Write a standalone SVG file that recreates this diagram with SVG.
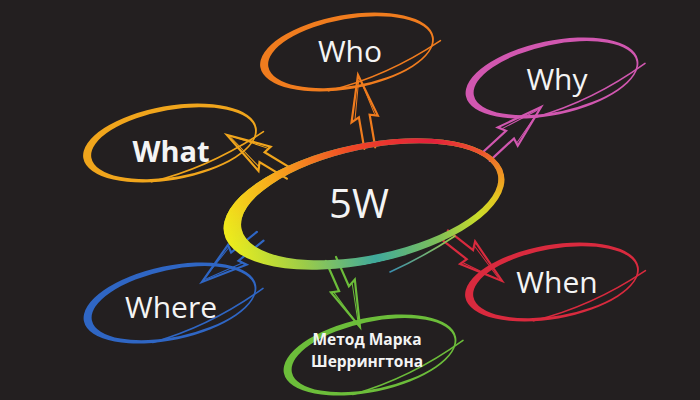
<svg xmlns="http://www.w3.org/2000/svg" xmlns:xlink="http://www.w3.org/1999/xlink" width="700" height="400" viewBox="0 0 700 400">
<style>
.lbl{font-family:"Open Sans","Noto Sans","Liberation Sans",sans-serif;fill:#f4f4f4;text-anchor:middle}
.arr{fill:none;stroke-width:2.2;stroke-linejoin:miter;stroke-linecap:round}
.tl{fill:none;stroke-width:1.6;stroke-linecap:round}
</style>
<defs>
<path id="ring" fill-rule="evenodd" d="M-88,0 A88,37 0 1,0 88,0 A88,37 0 1,0 -88,0 Z M-80,0.8 A83,33.5 0 1,0 86,0.8 A83,33.5 0 1,0 -80,0.8 Z"/>
<path id="tail" d="M-25,35 Q35,31 94,5"/>
<g id="arrow">
<path d="M-4,74 L-5,42 L-13,46 L0,0 L14,43 L6,41 L7,74"/>
<path d="M0,5 L-9,43 M2,6 L11,41" stroke-width="1"/>
</g>
<clipPath id="cclip">
<path fill-rule="evenodd" clip-rule="evenodd" d="M-143,0 A143,60 0 1,0 143,0 A143,60 0 1,0 -143,0 Z M-125,-1 A131,53 0 1,0 137,-1 A131,53 0 1,0 -125,-1 Z"/>
</clipPath>
<linearGradient id="gTop" x1="-143" y1="0" x2="143" y2="0" gradientUnits="userSpaceOnUse">
<stop offset="0" stop-color="#f2e61a"/>
<stop offset="0.22" stop-color="#f7a51c"/>
<stop offset="0.5" stop-color="#ef4626"/>
<stop offset="0.78" stop-color="#e21f3b"/>
<stop offset="1" stop-color="#f06a2a"/>
</linearGradient>
<linearGradient id="gBot" x1="-143" y1="0" x2="143" y2="0" gradientUnits="userSpaceOnUse">
<stop offset="0" stop-color="#eef01c"/>
<stop offset="0.25" stop-color="#9ccc48"/>
<stop offset="0.5" stop-color="#3fa99c"/>
<stop offset="0.72" stop-color="#7cbf5a"/>
<stop offset="0.88" stop-color="#c9dc2a"/>
<stop offset="1" stop-color="#f2b81c"/>
</linearGradient>
<linearGradient id="gFade" x1="0" y1="-25" x2="0" y2="20" gradientUnits="userSpaceOnUse">
<stop offset="0" stop-color="#fff"/>
<stop offset="1" stop-color="#000"/>
</linearGradient>
<mask id="mTop" maskUnits="userSpaceOnUse" x="-160" y="-80" width="320" height="160">
<rect x="-160" y="-80" width="320" height="160" fill="url(#gFade)"/>
</mask>
<linearGradient id="gTail" x1="0" y1="0" x2="1" y2="0">
<stop offset="0" stop-color="#3a8fb0"/>
<stop offset="1" stop-color="#9acb4a"/>
</linearGradient>
</defs>
<rect width="700" height="400" fill="#231f20"/>

<g id="connectors">
<g transform="translate(358,75) rotate(-8)"><use xlink:href="#arrow" class="arr" stroke="#f07c1e"/></g>
<g transform="translate(541,107) rotate(49)"><use xlink:href="#arrow" class="arr" stroke="#d157b0"/></g>
<g transform="translate(502,281) rotate(130)"><use xlink:href="#arrow" class="arr" stroke="#d92a3e"/></g>
<g transform="translate(202,282) rotate(-127)"><use xlink:href="#arrow" class="arr" stroke="#2f66c4"/></g>
<g transform="translate(227,135) rotate(-57)"><use xlink:href="#arrow" class="arr" stroke="#f0a51c"/></g>
<g transform="translate(360,327) rotate(158)"><use xlink:href="#arrow" class="arr" stroke="#6cbd3a"/></g>
</g>

<g id="center">
<g transform="translate(364,204) rotate(-12)">
<g clip-path="url(#cclip)">
<rect x="-150" y="-70" width="300" height="140" fill="url(#gBot)"/>
<rect x="-150" y="-70" width="300" height="140" fill="url(#gTop)" mask="url(#mTop)"/>
</g>
</g>
<path d="M390,272 Q425,256 455,236" class="tl" stroke="url(#gTail)"/>
<text class="lbl" x="359" y="218" font-size="40">5W</text>
</g>

<g id="what">
<g transform="translate(170,143) rotate(-10)">
<use xlink:href="#ring" fill="#f0a51c"/>
<use xlink:href="#tail" class="tl" stroke="#f0a51c"/>
</g>
<text class="lbl" x="171" y="162" font-size="29" font-weight="700">What</text>
</g>

<g id="who">
<g transform="translate(347,52) rotate(-10)">
<use xlink:href="#ring" fill="#f07c1e"/>
<use xlink:href="#tail" class="tl" stroke="#f07c1e"/>
</g>
<text class="lbl" x="350" y="62" font-size="30">Who</text>
</g>

<g id="why">
<g transform="translate(552,78) rotate(-12)">
<use xlink:href="#ring" fill="#d157b0"/>
<use xlink:href="#tail" class="tl" stroke="#d157b0"/>
</g>
<text class="lbl" x="557" y="90" font-size="30">Why</text>
</g>

<g id="when">
<g transform="translate(552,282) rotate(-10)">
<use xlink:href="#ring" fill="#d92a3e"/>
<use xlink:href="#tail" class="tl" stroke="#d92a3e"/>
</g>
<text class="lbl" x="557" y="293" font-size="30">When</text>
</g>

<g id="where">
<g transform="translate(170,303) rotate(-12)">
<use xlink:href="#ring" fill="#2f66c4"/>
<use xlink:href="#tail" class="tl" stroke="#2f66c4"/>
</g>
<text class="lbl" x="171" y="318" font-size="30">Where</text>
</g>

<g id="metod">
<g transform="translate(370,355) rotate(-12)">
<use xlink:href="#ring" fill="#6cbd3a"/>
<use xlink:href="#tail" class="tl" stroke="#6cbd3a"/>
</g>
<text class="lbl" x="367" y="345" font-size="15.5" font-weight="700">Метод Марка</text>
<text class="lbl" x="367" y="367" font-size="15.5" font-weight="700">Шеррингтона</text>
</g>
</svg>
